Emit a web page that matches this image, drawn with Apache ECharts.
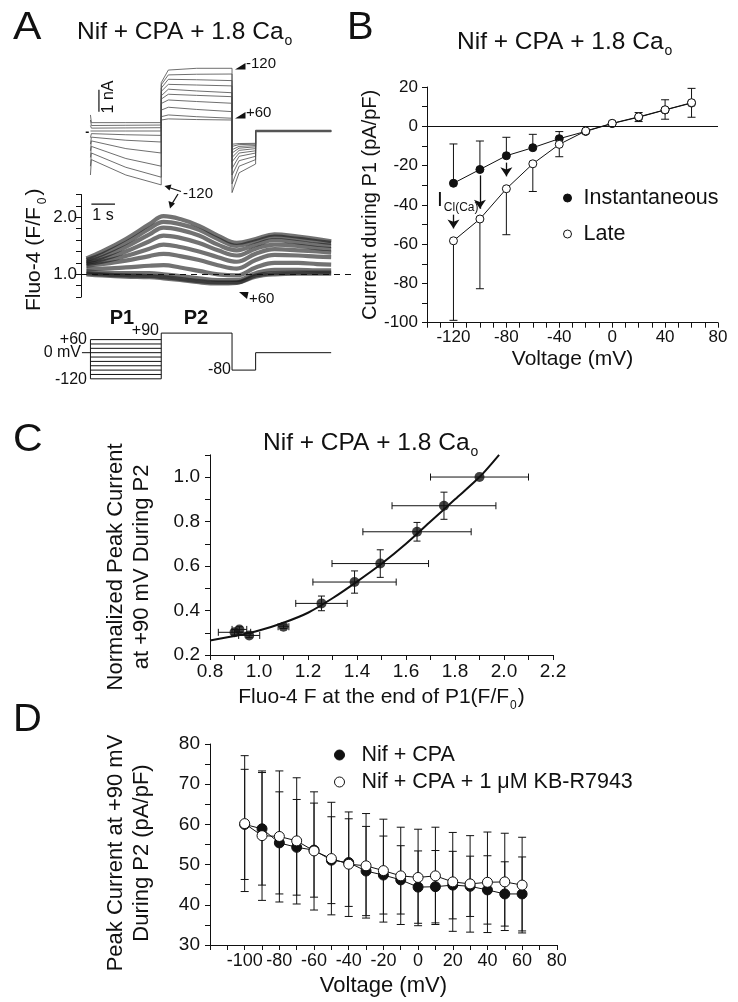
<!DOCTYPE html>
<html><head><meta charset="utf-8">
<script src="https://cdn.jsdelivr.net/npm/echarts@6/dist/echarts.min.js"></script>
<style>html,body{margin:0;padding:0;background:#fff}#c{width:738px;height:1002px}</style>
</head><body><div id="c"></div>
<script>
// ================= DATA =================
// ---- Panel A: membrane currents (nA) for each P1 voltage ----
const aVoltages  = [-120,-100,-80,-60,-40,-20,0,20,40,60];
const aP1Spike   = [-2.0,-1.6,-1.2,-0.9,-0.6,-0.3,0.0,0.25,0.5,0.73];
const aP1Start   = [-1.3,-1.0,-0.7,-0.45,-0.28,-0.12,0.0,0.13,0.25,0.38];
const aP1Mid     = [-2.0,-1.65,-1.25,-0.8,-0.42,-0.17,0.0,0.14,0.26,0.38];
const aP1End     = [-2.45,-2.1,-1.6,-1.0,-0.5,-0.2,0.0,0.15,0.27,0.38];
const aP2Onset   = [2.2,2.1,1.95,1.8,1.6,1.45,1.25,0.95,0.65,0.5];
const aP2Start   = [2.77,2.55,2.35,2.12,1.9,1.67,1.41,1.08,0.73,0.55];
const aP2Mid     = [2.85,2.58,2.33,2.09,1.82,1.62,1.34,0.98,0.65,0.52];
const aP2End     = [2.85,2.59,2.29,2.05,1.74,1.56,1.26,0.88,0.58,0.5];
const aTailStart = [-2.8,-2.4,-2.0,-1.7,-1.4,-1.2,-1.0,-0.85,-0.7,-0.6];
const aTailMid   = [-1.9,-1.6,-1.35,-1.15,-1.0,-0.88,-0.78,-0.7,-0.62,-0.57];
const aTailEnd   = [-1.5,-1.3,-1.15,-1.0,-0.9,-0.8,-0.72,-0.66,-0.6,-0.56];
const aHolding   = 0;
const aTimes     = [0, 0.04, 1.5, 3, 3, 3.3, 4.5, 6, 6, 6.3, 7, 7, 10.2]; // s
// ---- Panel A: Fluo-4 (F/F0) ----
const fTimes = [-0.17,0.5,1.5,2.5,3.1,3.8,4.6,5.4,6.2,7.0,7.8,8.8,9.6,10.2];
const fM120 = [1.28,1.40,1.62,1.88,2.02,1.97,1.85,1.68,1.55,1.62,1.70,1.66,1.62,1.58];
const fM100 = [1.25,1.35,1.55,1.80,1.92,1.88,1.78,1.62,1.50,1.58,1.66,1.62,1.58,1.55];
const fM80  = [1.22,1.30,1.48,1.70,1.82,1.78,1.68,1.52,1.42,1.52,1.60,1.56,1.52,1.50];
const fM60  = [1.20,1.26,1.40,1.58,1.68,1.64,1.55,1.42,1.33,1.45,1.52,1.50,1.46,1.44];
const fM40  = [1.18,1.22,1.32,1.45,1.52,1.48,1.40,1.30,1.22,1.36,1.44,1.42,1.40,1.38];
const fM20  = [1.15,1.18,1.24,1.32,1.36,1.32,1.25,1.16,1.10,1.25,1.34,1.33,1.31,1.30];
const fP0   = [1.10,1.10,1.12,1.15,1.16,1.12,1.06,1.00,0.98,1.12,1.20,1.20,1.18,1.17];
const fP20  = [1.05,1.03,1.02,1.02,1.00,0.97,0.93,0.90,0.90,1.02,1.08,1.08,1.07,1.07];
const fP40  = [1.02,1.00,0.98,0.97,0.95,0.92,0.88,0.86,0.86,0.98,1.02,1.03,1.03,1.03];
const fP60  = [1.00,0.98,0.96,0.95,0.93,0.90,0.86,0.84,0.85,0.96,1.00,1.01,1.01,1.01];
// ---- Panel A: voltage protocol (mV) ----
const protoP1Levels = [-120,-100,-80,-60,-40,-20,0,20,40,60];
const protoP1Time = [0, 3];
const protoAfterT = [3, 6, 6, 7, 7, 10.2];
const protoAfterV = [90, 90, -80, -80, 0, 0];

// ---- Panel B ----
const bVolt = [-120,-100,-80,-60,-40,-20,0,20,40,60];
const bInst = [-29,-22,-15,-10.9,-6.3,-2.6,1.4,4.6,8.3,11.8];
const bLate = [-58.3,-47.2,-31.8,-19.1,-9.2,-2.4,1.5,4.8,8.4,12.0];
const bInstUpper = [-9,-7.5,-5.6,-4.1,-2.7,null,null,null,null,null];
const bLateLower = [-98.8,-82.7,-55.2,-33.2,-15.5,null,null,2.4,3.6,4.6];
const bLateUpper = [null,null,null,null,null,null,null,7.0,13.5,19.3];
const bArrowX    = [-120,-100,-80];
const bArrowFrom = [-45,-25,-18.5];
const bArrowTo   = [-52,-42,-25.5];

// ---- Panel C ----
const cF    = [0.90,0.92,0.96,1.10,1.255,1.39,1.495,1.645,1.755,1.90];
const cI    = [0.302,0.315,0.288,0.327,0.432,0.528,0.611,0.754,0.871,1.0];
const cFerr = [0.066,0.03,0.043,0.022,0.105,0.17,0.197,0.221,0.212,0.2];
const cIerr = [0.012,0.012,0.01,0.008,0.033,0.05,0.062,0.042,0.061,0];
const cFitF = [0.8,0.9,1.0,1.1,1.2,1.3,1.4,1.5,1.6,1.7,1.8,1.9,1.98];
const cFitI = [0.265,0.285,0.31,0.345,0.39,0.455,0.53,0.61,0.70,0.80,0.90,1.0,1.1];

// ---- Panel D ----
const dVolt = [-100,-90,-80,-70,-60,-50,-40,-30,-20,-10,0,10,20,30,40,50,60];
const dCtrl = [60.0,58.9,55.4,54.3,53.6,51.1,50.5,48.4,47.4,46.2,44.4,44.5,44.9,44.6,43.7,42.7,42.7];
const dCtrlErr = [13.7,14,12.7,11.9,11.7,10.8,10.9,11.1,9.7,8.5,9,9,8.4,7.5,8.5,8,9.2];
const dKB  = [60.2,57.2,57.0,55.9,53.4,51.5,50.1,49.7,48.5,47.2,46.8,47.2,45.7,45.2,45.6,45.7,44.9];
const dKBErr = [16.9,16.1,16.3,15.7,14.7,14,13,13,12.8,12.1,12,12.1,12.3,12,12.5,12.1,11.9];

// ================= BUILD =================
const FONT = "'Liberation Sans', Arial, Helvetica, sans-serif";
const INK = '#111';
const zip = (xs, ys) => xs.map((x, i) => [x, ys[i]]);

function axis(o) {
  const base = {
    type: 'value',
    axisLine: {show: true, onZero: false, lineStyle: {color: INK, width: 1}},
    axisTick: {show: true, inside: false, length: 5, lineStyle: {color: INK, width: 1}},
    splitLine: {show: false},
    axisLabel: {color: INK, fontSize: 17, fontFamily: FONT, margin: 8},
    nameTextStyle: {color: INK, fontFamily: FONT, fontSize: 20}
  };
  const r = Object.assign({}, base, o);
  ['axisLine','axisTick','axisLabel','nameTextStyle'].forEach(k => {
    if (o[k]) r[k] = Object.assign({}, base[k], o[k]);
  });
  return r;
}
const hidden = (min, max) => ({type: 'value', show: false, min, max});

function vErr(capW) {
  return function (params, api) {
    const x = api.value(0), lo = api.value(1), hi = api.value(2);
    const cl = api.value(3), ch = api.value(4);
    const a = api.coord([x, lo]), b = api.coord([x, hi]);
    const st = {stroke: INK, lineWidth: 1};
    const kids = [{type: 'line', shape: {x1: a[0], y1: a[1], x2: b[0], y2: b[1]}, style: st}];
    if (cl) kids.push({type: 'line', shape: {x1: a[0]-capW, y1: a[1], x2: a[0]+capW, y2: a[1]}, style: st});
    if (ch) kids.push({type: 'line', shape: {x1: b[0]-capW, y1: b[1], x2: b[0]+capW, y2: b[1]}, style: st});
    return {type: 'group', children: kids};
  };
}
function hErr(capH) {
  return function (params, api) {
    const y = api.value(0), lo = api.value(1), hi = api.value(2);
    const a = api.coord([lo, y]), b = api.coord([hi, y]);
    const st = {stroke: INK, lineWidth: 1};
    return {type: 'group', children: [
      {type: 'line', shape: {x1: a[0], y1: a[1], x2: b[0], y2: b[1]}, style: st},
      {type: 'line', shape: {x1: a[0], y1: a[1]-capH, x2: a[0], y2: a[1]+capH}, style: st},
      {type: 'line', shape: {x1: b[0], y1: b[1]-capH, x2: b[0], y2: b[1]+capH}, style: st}
    ]};
  };
}

const series = [];
// Panel A currents (grid 0)
aVoltages.forEach((v, i) => {
  const vals = [aP1Spike[i], aP1Start[i], aP1Mid[i], aP1End[i], aP2Onset[i], aP2Start[i], aP2Mid[i],
                aP2End[i], aTailStart[i], aTailMid[i], aTailEnd[i], aHolding, aHolding];
  series.push({type: 'line', name: 'I ' + v, xAxisIndex: 0, yAxisIndex: 0, data: zip(aTimes, vals),
    showSymbol: false, symbol: 'none', lineStyle: {color: '#4a4a4a', width: 0.8}, silent: true});
});
series.push({type: 'line', xAxisIndex: 0, yAxisIndex: 0, data: [[7, aHolding], [10.2, aHolding]],
  symbol: 'none', lineStyle: {color: '#555', width: 2.6}, silent: true}); // overlapping holding traces
series.push({type: 'line', xAxisIndex: 0, yAxisIndex: 0, data: [[-0.2, -0.06], [-0.07, -0.06]],
  symbol: 'none', lineStyle: {color: INK, width: 1.5}, silent: true});
series.push({type: 'line', xAxisIndex: 0, yAxisIndex: 0, data: [[0.36, 0.88], [0.36, 1.88]],
  symbol: 'none', lineStyle: {color: INK, width: 1.2}, silent: true}); // 1 nA bar
// Panel A fluorescence (grid 1)
[fM120, fM100, fM80, fM60, fM40, fM20, fP0, fP20, fP40, fP60].forEach((tr, i) => {
  const s = {type: 'line', xAxisIndex: 1, yAxisIndex: 1, data: zip(fTimes, tr), symbol: 'none',
    smooth: 0.4, lineStyle: {color: '#1c1c1c', width: 4.2, opacity: 0.62}, silent: true};
  if (i === 0) s.markLine = {silent: true, symbol: 'none', label: {show: false},
    lineStyle: {color: INK, width: 1.2, type: [6, 5]}, data: [{yAxis: 1}]};
  series.push(s);
});
series.push({type: 'line', xAxisIndex: 1, yAxisIndex: 1, data: [[0.04, 2.23], [1.04, 2.23]],
  symbol: 'none', lineStyle: {color: INK, width: 1.2}, silent: true}); // 1 s bar
// Panel A protocol (grid 2)
protoP1Levels.forEach(v => series.push({type: 'line', xAxisIndex: 2, yAxisIndex: 2,
  data: protoP1Time.map(t => [t, v]), symbol: 'none', lineStyle: {color: INK, width: 1}, silent: true}));
series.push({type: 'line', xAxisIndex: 2, yAxisIndex: 2,
  data: [[-0.36, 0], [0, 0]], symbol: 'none', lineStyle: {color: INK, width: 1}, silent: true});
series.push({type: 'line', xAxisIndex: 2, yAxisIndex: 2,
  data: [[0, protoP1Levels[0]], [0, protoP1Levels[protoP1Levels.length-1]]], symbol: 'none', lineStyle: {color: INK, width: 1}, silent: true});
series.push({type: 'line', xAxisIndex: 2, yAxisIndex: 2,
  data: [[3, protoP1Levels[0]]].concat(zip(protoAfterT, protoAfterV)), symbol: 'none', lineStyle: {color: INK, width: 1}, silent: true});

// Panel B (grid 3)
const bErrData = [];
bVolt.forEach((v, i) => {
  if (bInstUpper[i] != null) bErrData.push([v, bInst[i], bInstUpper[i], 0, 1]);
  if (bLateLower[i] != null || bLateUpper[i] != null) {
    const lo = bLateLower[i] != null ? bLateLower[i] : bLate[i];
    const hi = bLateUpper[i] != null ? bLateUpper[i] : bLate[i];
    bErrData.push([v, lo, hi, bLateLower[i] != null ? 1 : 0, bLateUpper[i] != null ? 1 : 0]);
  }
});
series.push({type: 'custom', xAxisIndex: 3, yAxisIndex: 3, data: bErrData, encode: {x: 0, y: [1, 2]},
  renderItem: vErr(4), silent: true, z: 1});
series.push({type: 'line', name: 'Instantaneous', xAxisIndex: 3, yAxisIndex: 3, data: zip(bVolt, bInst),
  symbol: 'circle', symbolSize: 8, itemStyle: {color: INK, borderColor: INK, borderWidth: 1},
  lineStyle: {color: INK, width: 1}, z: 3,
  markLine: {silent: true, symbol: 'none', label: {show: false}, lineStyle: {color: INK, width: 1, type: 'solid'},
    data: [{yAxis: 0}]}});
series.push({type: 'line', name: 'Late', xAxisIndex: 3, yAxisIndex: 3, data: zip(bVolt, bLate),
  symbol: 'circle', symbolSize: 8, itemStyle: {color: '#fff', borderColor: INK, borderWidth: 1},
  lineStyle: {color: INK, width: 1}, z: 4,
  markLine: {silent: true, symbol: ['none', 'arrow'], symbolSize: 9, label: {show: false},
    lineStyle: {color: INK, width: 1.3, type: 'solid'},
    data: bArrowX.map((x, i) => [{coord: [x, bArrowFrom[i]]}, {coord: [x, bArrowTo[i]]}])}});

// Panel C (grid 4)
series.push({type: 'custom', xAxisIndex: 4, yAxisIndex: 4,
  data: cF.map((f, i) => [cI[i], f - cFerr[i], f + cFerr[i]]), encode: {x: [1, 2], y: 0},
  renderItem: hErr(3.5), silent: true, z: 1});
series.push({type: 'custom', xAxisIndex: 4, yAxisIndex: 4,
  data: cF.map((f, i) => [f, cI[i] - cIerr[i], cI[i] + cIerr[i], 1, 1]).filter((d, i) => cIerr[i] > 0),
  encode: {x: 0, y: [1, 2]}, renderItem: vErr(3.5), silent: true, z: 1});
series.push({type: 'line', xAxisIndex: 4, yAxisIndex: 4, data: zip(cFitF, cFitI), symbol: 'none',
  smooth: 0.3, lineStyle: {color: INK, width: 2}, silent: true, z: 2});
series.push({type: 'scatter', xAxisIndex: 4, yAxisIndex: 4, data: zip(cF, cI), symbol: 'circle',
  symbolSize: 10, itemStyle: {color: INK}, silent: true, z: 3});

// Panel D (grid 5)
series.push({type: 'custom', xAxisIndex: 5, yAxisIndex: 5,
  data: dVolt.map((v, i) => [v, dKB[i] - dKBErr[i], dKB[i] + dKBErr[i], 1, 1]), encode: {x: 0, y: [1, 2]},
  renderItem: vErr(4), silent: true, z: 1});
series.push({type: 'custom', xAxisIndex: 5, yAxisIndex: 5,
  data: dVolt.map((v, i) => [v, dCtrl[i] - dCtrlErr[i], dCtrl[i] + dCtrlErr[i], 1, 1]), encode: {x: 0, y: [1, 2]},
  renderItem: vErr(4), silent: true, z: 1});
series.push({type: 'line', name: 'Nif + CPA', xAxisIndex: 5, yAxisIndex: 5, data: zip(dVolt, dCtrl),
  symbol: 'circle', symbolSize: 10, itemStyle: {color: INK, borderColor: INK, borderWidth: 1},
  lineStyle: {color: INK, width: 1}, z: 3});
series.push({type: 'line', name: 'Nif + CPA + 1 μM KB-R7943', xAxisIndex: 5, yAxisIndex: 5, data: zip(dVolt, dKB),
  symbol: 'circle', symbolSize: 10, itemStyle: {color: '#fff', borderColor: INK, borderWidth: 1},
  lineStyle: {color: INK, width: 1}, z: 4});

// ================= LAYOUT =================
const gA = {left: 81, width: 271.4};
const grids = [
  Object.assign({top: 54, height: 143}, gA),
  Object.assign({top: 194.5, height: 102.6}, gA),
  Object.assign({top: 330.9, height: 50.1}, gA),
  {left: 427, top: 87, width: 291, height: 235.7},
  {left: 210, top: 454.8, width: 343, height: 200.2},
  {left: 210, top: 744, width: 346.8, height: 201}
].map(g => Object.assign({containLabel: false, outerBoundsMode: 'none'}, g));

const xAxes = [
  Object.assign(hidden(-0.4, 11.1), {gridIndex: 0}),
  Object.assign(hidden(-0.4, 11.1), {gridIndex: 1}),
  Object.assign(hidden(-0.4, 11.1), {gridIndex: 2}),
  axis({gridIndex: 3, min: -140, max: 80, interval: 10,
    axisLabel: {fontSize: 17, margin: 6, formatter: v => ((v + 120) % 40 === 0 ? String(v) : '')},
    name: 'Voltage (mV)', nameLocation: 'middle', nameGap: 26, nameTextStyle: {fontSize: 21}}),
  axis({gridIndex: 4, min: 0.8, max: 2.2, interval: 0.1,
    axisLabel: {fontSize: 19, margin: 7, formatter: v => (Math.round(v * 10) % 2 === 0 ? v.toFixed(1) : '')},
    name: '{a|Fluo-4 F at the end of P1(F/F}{s|0}{a|)}', nameLocation: 'middle', nameGap: 30,
    nameTextStyle: {fontSize: 21, rich: {a: {fontSize: 21, fontFamily: FONT, color: INK, lineHeight: 24},
      s: {fontSize: 12, fontFamily: FONT, color: INK, lineHeight: 24, verticalAlign: 'bottom', padding: [0, 1, -3, 1]}}}}),
  axis({gridIndex: 5, min: -120, max: 80, interval: 10,
    axisLabel: {fontSize: 18, margin: 7, formatter: v => (v % 20 === 0 && v > -120 ? String(v) : '')},
    name: 'Voltage (mV)', nameLocation: 'middle', nameGap: 30, nameTextStyle: {fontSize: 22}})
];
const yAxes = [
  Object.assign(hidden(-3, 3.5), {gridIndex: 0}),
  axis({gridIndex: 1, min: 0.6, max: 2.4, interval: 0.2,
    axisLabel: {fontSize: 17, margin: 4, formatter: v => (Math.abs(v - 1) < 1e-6 ? '1.0' : (Math.abs(v - 2) < 1e-6 ? '2.0' : ''))},
    name: '{a|Fluo-4 (F/F}{s|0}{a|)}', nameLocation: 'middle', nameRotate: 90, nameGap: 35,
    nameTextStyle: {fontSize: 21, padding: [0, 8, 0, 0], rich: {a: {fontSize: 21, fontFamily: FONT, color: INK, lineHeight: 24},
      s: {fontSize: 12, fontFamily: FONT, color: INK, lineHeight: 24, verticalAlign: 'bottom', padding: [0, 2, -3, 3]}}}}),
  Object.assign(hidden(-130, 100), {gridIndex: 2}),
  axis({gridIndex: 3, min: -100, max: 20, interval: 10,
    axisLabel: {fontSize: 17, margin: 9, formatter: v => (v % 20 === 0 ? String(v) : '')},
    name: 'Current during P1 (pA/pF)', nameLocation: 'middle', nameRotate: 90, nameGap: 40, nameTextStyle: {fontSize: 20}}),
  axis({gridIndex: 4, min: 0.2, max: 1.1, interval: 0.1,
    axisLabel: {fontSize: 19, margin: 10, formatter: v => (Math.round(v * 10) % 2 === 0 ? v.toFixed(1) : '')},
    name: 'Normalized Peak Current\nat +90 mV During P2', nameLocation: 'middle', nameRotate: 90, nameGap: 55,
    nameTextStyle: {fontSize: 22, lineHeight: 26, padding: [0, 24, 0, 0]}}),
  axis({gridIndex: 5, min: 30, max: 80, interval: 5,
    axisLabel: {fontSize: 19, margin: 10, formatter: v => (v % 10 === 0 ? String(v) : '')},
    name: 'Peak Current at +90 mV\nDuring P2 (pA/pF)', nameLocation: 'middle', nameRotate: 90, nameGap: 55,
    nameTextStyle: {fontSize: 22, lineHeight: 26, padding: [0, 17, 0, 0]}})
];

const titleRich = {a: {fontSize: 24.5, fontWeight: 'normal', fontFamily: FONT, color: INK, lineHeight: 27},
  s: {fontSize: 14, fontWeight: 'normal', fontFamily: FONT, color: INK, lineHeight: 27, verticalAlign: 'bottom', padding: [0, 0, -3, 1]}};
const tText = '{a|Nif + CPA + 1.8 Ca}{s|o}';
const tStyle = {fontWeight: 'normal', fontSize: 24.5, fontFamily: FONT, color: INK, rich: titleRich};
const titles = [
  {text: tText, left: 77, top: 18.5, padding: 0, textStyle: tStyle},
  {text: tText, left: 457, top: 28.5, padding: 0, textStyle: tStyle},
  {text: tText, left: 263, top: 429.5, padding: 0, textStyle: tStyle}
];

const legendRich = (pad, fs) => ({t: {fontSize: fs, fontFamily: FONT, color: INK, lineHeight: 22, padding: [0, 0, 0, pad]}});
const legends = [
  {data: [{name: 'Instantaneous', itemStyle: {color: INK, borderColor: INK, borderWidth: 1}},
          {name: 'Late', itemStyle: {color: '#fff', borderColor: INK, borderWidth: 1}}],
   orient: 'vertical', left: 563, top: 187, padding: 0, itemWidth: 8, itemHeight: 8, itemGap: 14, icon: 'circle',
   selectedMode: false, formatter: n => '{t|' + n + '}', textStyle: {rich: legendRich(7, 21.5)}},
  {data: [{name: 'Nif + CPA', itemStyle: {color: INK, borderColor: INK, borderWidth: 1}},
          {name: 'Nif + CPA + 1 μM KB-R7943', itemStyle: {color: '#fff', borderColor: INK, borderWidth: 1}}],
   orient: 'vertical', left: 334, top: 744, padding: 0, itemWidth: 10, itemHeight: 10, itemGap: 5, icon: 'circle',
   selectedMode: false, formatter: n => '{t|' + n + '}', textStyle: {rich: legendRich(12, 21.5)}}
];

const txt = (x, y, text, fs, align, extra, weight) => Object.assign({type: 'text', x, y, silent: true,
  style: {text, fontSize: fs, fontFamily: FONT, fontWeight: weight || 'normal', fill: INK, align: align || 'left', textAlign: align || 'left',
    verticalAlign: 'middle', textVerticalAlign: 'middle'}}, extra || {});
const poly = pts => ({type: 'polygon', silent: true, shape: {points: pts}, style: {fill: INK}});
const seg = (x1, y1, x2, y2, w) => ({type: 'line', silent: true, shape: {x1, y1, x2, y2}, style: {stroke: INK, lineWidth: w || 1}});

const graphics = [
  txt(13, 28.5, 'A', 38, 'left', {scaleX: 1.12}),
  txt(347, 28.5, 'B', 38, 'left', {scaleX: 1.05}),
  txt(13, 440.5, 'C', 38, 'left', {scaleX: 1.08}),
  txt(13, 721, 'D', 38, 'left', {scaleX: 1.05}),
  // panel A annotations
  txt(109, 97, '1 nA', 16, 'center', {rotation: Math.PI / 2}),
  txt(103, 216, '1 s', 16, 'center'),
  poly([[235, 69.5], [245.5, 69.5], [245.5, 63]]), txt(246, 64, '-120', 15),
  poly([[235, 118.5], [245.5, 118.5], [245.5, 112]]), txt(246, 113, '+60', 15),
  poly([[239, 292], [248.5, 292], [247, 299]]), txt(249, 299, '+60', 15),
  txt(183, 193.5, '-120', 15),
  seg(181, 191.5, 169, 187.5, 1.3), poly([[164.5, 186], [171.5, 184.5], [169.5, 190.5]]),
  seg(178, 194, 172.5, 203, 1.3), poly([[170, 208.5], [168.5, 201], [175, 203.5]]),
  txt(87, 340, '+60', 16, 'right'),
  txt(81, 353, '0 mV', 16, 'right'),
  txt(87, 380, '-120', 16, 'right'),
  txt(159, 331, '+90', 16, 'right'),
  txt(231, 370, '-80', 16, 'right'),
  txt(122, 318, 'P1', 20, 'center', null, 'bold'),
  txt(196, 318, 'P2', 20, 'center', null, 'bold'),
  // panel B annotation
  {type: 'text', x: 437, y: 200, silent: true, style: {text: '{a|I}{b|Cl(Ca)}', fill: INK, align: 'left', textAlign: 'left',
    verticalAlign: 'middle', textVerticalAlign: 'middle',
    rich: {a: {fontSize: 21, fontFamily: FONT, fill: INK, color: INK, lineHeight: 24},
           b: {fontSize: 12, fontFamily: FONT, fill: INK, color: INK, lineHeight: 24, verticalAlign: 'bottom', padding: [0, 0, -2, 1]}}}}
];

const chart = echarts.init(document.getElementById('c'), null, {renderer: 'canvas'});
chart.setOption({
  animation: false,
  backgroundColor: '#fff',
  textStyle: {fontFamily: FONT, color: INK},
  title: titles,
  legend: legends,
  grid: grids,
  xAxis: xAxes,
  yAxis: yAxes,
  series: series,
  graphic: graphics
});
</script></body></html>
